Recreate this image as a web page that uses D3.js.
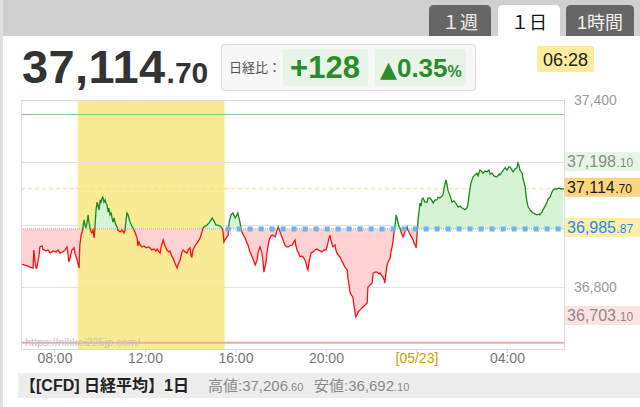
<!DOCTYPE html>
<html><head><meta charset="utf-8">
<script src="https://cdn.jsdelivr.net/npm/d3@7"></script>
<style>
body{margin:0;background:#fff;}
svg{display:block;font-family:"Liberation Sans","Noto Sans CJK JP",sans-serif;}
</style>
</head><body>
<svg id="c" width="640" height="407"></svg>
<script>
// ---- data (minutes elapsed since 05/22 06:30, CFD Nikkei price) ----
const elapsedMin = [0,8,16,24,32,34,37,40,42,48,50,56,58,66,72,77,85,93,98,103,111,117,122,125,127,130,135,141,143,149,154,156,159,162,164,167,170,172,175,178,180,183,186,188,191,194,196,199,202,204,207,210,212,215,217,220,223,225,228,231,233,236,239,241,244,247,249,252,255,257,263,268,273,276,278,281,284,289,294,297,302,308,310,313,316,321,326,332,337,342,347,353,358,361,366,369,371,377,382,387,392,395,400,403,408,414,416,422,427,430,435,440,443,448,451,453,456,461,467,472,475,480,483,488,493,499,504,507,512,517,522,528,533,536,538,544,549,552,557,562,568,573,575,581,583,586,591,594,599,602,607,613,618,621,626,629,634,639,642,644,650,652,658,663,666,671,674,679,682,687,692,697,700,705,708,713,719,724,727,729,732,737,740,745,748,753,756,758,761,764,769,774,780,785,788,793,798,804,809,812,814,817,819,822,827,833,835,838,843,846,851,854,859,865,867,870,873,878,880,883,886,888,891,894,899,904,907,912,918,920,926,931,934,939,944,949,952,957,960,963,965,968,971,976,979,981,984,987,989,992,995,997,1000,1002,1005,1008,1013,1018,1024,1026,1029,1034,1037,1040,1042,1045,1048,1050,1053,1056,1058,1061,1063,1066,1071,1077,1079,1085,1090,1093,1098,1103,1106,1111,1117,1119,1122,1127,1130,1132,1138,1143,1148,1151,1156,1159,1164,1170,1175,1177,1183,1185,1188,1191,1193,1199,1204,1209,1212,1217,1223,1225,1231,1236,1241,1244,1249,1254,1260,1262,1268,1270,1276,1281,1284,1289,1294,1297,1302,1305,1310,1315,1318,1321,1323,1329,1331,1337,1339,1342,1345,1347,1350,1355,1358,1363,1368,1374,1376,1382,1384,1390,1395,1398,1403,1408,1411,1416,1421,1427,1432,1438];
const prices = [36873,36870,36867,36863,36860,36918,36880,36860,36860,36902,36928,36931,36921,36915,36918,36908,36915,36912,36918,36908,36912,36918,36928,36902,36880,36892,36918,36925,36908,36886,36860,36934,36963,36976,36986,37015,36998,36989,37005,37031,37008,36989,36976,36973,36982,36957,36989,37047,37072,37063,37047,37079,37069,37085,37088,37072,37079,37069,37063,37040,37053,37031,37037,37024,37008,37021,37008,36998,36992,36982,36976,36982,36973,36982,37008,37037,37031,37008,36995,36989,36976,36957,36931,36944,36934,36928,36931,36925,36928,36925,36918,36921,36915,36921,36912,36908,36925,36950,36931,36918,36912,36915,36899,36892,36876,36860,36870,36886,36912,36918,36912,36908,36918,36925,36899,36896,36918,36931,36941,36950,36957,36976,36989,36995,36998,37005,37015,37021,37011,36998,36998,36995,36989,36976,36944,36957,36963,37008,37031,37037,37021,37031,37037,37005,36989,36976,36963,36957,36941,36934,36912,36896,36880,36870,36886,36912,36928,36908,36880,36847,36880,36908,36950,36963,36966,36963,36960,36982,36992,36976,36960,36944,36934,36928,36928,36931,36934,36944,36950,36931,36918,36905,36896,36899,36896,36886,36876,36863,36854,36880,36908,36912,36918,36921,36918,36915,36912,36918,36918,36931,36941,36957,36966,36950,36928,36934,36918,36908,36899,36896,36883,36876,36863,36854,36828,36806,36780,36770,36767,36741,36716,36703.1,36709,36719,36725,36732,36735,36741,36748,36799,36806,36812,36844,36847,36847,36841,36844,36835,36831,36822,36812,36847,36870,36886,36892,36912,36928,36950,36973,36998,37031,37021,37005,36995,36989,36976,36960,36976,36992,36982,36976,36963,36957,36950,36941,36934,36925,36966,37015,37047,37069,37059,37079,37085,37072,37072,37085,37085,37076,37069,37079,37079,37088,37085,37092,37095,37117,37143,37127,37111,37092,37072,37076,37072,37063,37056,37059,37053,37050,37047,37053,37063,37092,37117,37133,37153,37159,37165,37156,37175,37169,37165,37172,37169,37175,37162,37165,37156,37153,37153,37162,37159,37169,37178,37182,37175,37185,37185,37175,37169,37178,37182,37198.1,37188,37175,37165,37149,37121,37095,37072,37056,37053,37047,37040,37037,37034,37031,37034,37031,37040,37047,37059,37072,37082,37088,37104,37111,37114,37114,37117,37114,37114.7];

const prevClose = 36985.87;
const lastPrice = 37114.70;
const markerValues = [37198.10, 37114.70, 36985.87, 36703.10];
const yTickValues = [37400, 37200, 37000, 36800];
const xTickMinutes = [90, 330, 570, 810, 1050, 1290];
const xTickLabels = ["08:00", "12:00", "16:00", "20:00", "[05/23]", "04:00"];
const sessionBand = [150, 540];          // 09:00 - 15:30
const refLevels = [37355, 36620];         // upper / lower reference lines
const tabLabels = ["１週", "１日", "1時間"];
const header = {price: "37,114", priceDec: ".70", change: "+128", pct: "0.35", time: "06:28"};
const footer = {title: "【[CFD] 日経平均】1日", high: "37,206", highDec: ".60", low: "36,692", lowDec: ".10"};

// ---- drawing ----
const svg = d3.select("#c");
const L = 21, R = 564, T = 100, B = 349;
const x = d3.scaleLinear().domain([0, 1440]).range([L, R]);
const y = d3.scaleLinear().domain([36600, 37400]).range([B, T]);
const data = elapsedMin.map((m, i) => ({m, v: prices[i]}));

// top band + left strip
svg.append("rect").attr("x", 0).attr("y", 0).attr("width", 640).attr("height", 36).attr("fill", "#d0d0d0");
svg.append("rect").attr("x", 0).attr("y", 0).attr("width", 3).attr("height", 407).attr("fill", "#e0e0e0");

// tabs
const tabs = [{x: 429, w: 62, active: false}, {x: 498, w: 62, active: true}, {x: 566, w: 68, active: false}];
tabs.forEach((t, i) => {
  svg.append("path")
    .attr("d", `M${t.x},36 V10 Q${t.x},5 ${t.x+5},5 H${t.x+t.w-5} Q${t.x+t.w},5 ${t.x+t.w},10 V36 Z`)
    .attr("fill", t.active ? "#fff" : "#666");
  svg.append("text").attr("x", t.x + t.w / 2).attr("y", 29).attr("text-anchor", "middle")
    .attr("font-size", 18).attr("fill", t.active ? "#111" : "#f0f0f0")
    .text(tabLabels[i]);
});

// big price
const bp = svg.append("text").attr("x", 22).attr("y", 83).attr("fill", "#333").attr("font-weight", "bold");
bp.append("tspan").attr("font-size", 47).attr("letter-spacing", 0.4).text(header.price);
bp.append("tspan").attr("font-size", 30).attr("dx", 1).text(header.priceDec);

// change box
svg.append("rect").attr("x", 221.5).attr("y", 44.5).attr("width", 254).attr("height", 46).attr("rx", 3)
  .attr("fill", "#f7f7f7").attr("stroke", "#dadada");
svg.append("text").attr("x", 229).attr("y", 72).attr("font-size", 13).attr("fill", "#555").text("日経比：");
svg.append("rect").attr("x", 283).attr("y", 49).attr("width", 85).attr("height", 37).attr("rx", 3).attr("fill", "#e8f4e8");
svg.append("rect").attr("x", 375).attr("y", 49).attr("width", 91).attr("height", 37).attr("rx", 3).attr("fill", "#e8f4e8");
svg.append("text").attr("x", 325).attr("y", 78).attr("text-anchor", "middle").attr("font-size", 31)
  .attr("font-weight", "bold").attr("fill", "#2b8c2b").text(header.change);
const pt = svg.append("text").attr("x", 380).attr("y", 77).attr("font-weight", "bold").attr("fill", "#2b8c2b");
pt.append("tspan").attr("font-size", 22).attr("font-family", "DejaVu Sans").text("▲");
pt.append("tspan").attr("font-size", 26).text(header.pct);
pt.append("tspan").attr("font-size", 16).text("%");

// time box
svg.append("rect").attr("x", 537).attr("y", 46).attr("width", 57).attr("height", 26).attr("rx", 2).attr("fill", "#fcec9c");
svg.append("text").attr("x", 565.5).attr("y", 66).attr("text-anchor", "middle").attr("font-size", 18).attr("fill", "#222").text(header.time);

// session band
svg.append("rect").attr("x", x(sessionBand[0])).attr("y", T).attr("width", x(sessionBand[1]) - x(sessionBand[0]))
  .attr("height", B - T).attr("fill", "#f9ea96");

// gridlines
svg.selectAll(".grid").data(yTickValues.slice(1)).join("line")
  .attr("x1", L).attr("x2", R).attr("y1", d => Math.round(y(d)) + 0.5).attr("y2", d => Math.round(y(d)) + 0.5)
  .attr("stroke", "#e2e2e2");

// reference lines
svg.append("line").attr("x1", L).attr("x2", R).attr("y1", Math.round(y(refLevels[0])) + 0.5).attr("y2", Math.round(y(refLevels[0])) + 0.5)
  .attr("stroke", "#86c886").attr("stroke-width", 1);
svg.append("line").attr("x1", L).attr("x2", R).attr("y1", y(refLevels[1])).attr("y2", y(refLevels[1]))
  .attr("stroke", "#f6a6a6").attr("stroke-width", 2);

// watermark
svg.append("text").attr("x", 25).attr("y", 346).attr("font-size", 11).attr("fill", "#c4c4c4").text("https://nikkei225jp.com/");

// last price dashed line
svg.append("line").attr("x1", L).attr("x2", R).attr("y1", y(lastPrice)).attr("y2", y(lastPrice))
  .attr("stroke", "#fbd49a").attr("stroke-dasharray", "4,3");

// clips
const yb = y(prevClose);
const defs = svg.append("defs");
defs.append("clipPath").attr("id", "above").append("rect").attr("x", L).attr("y", T).attr("width", R - L).attr("height", yb - T);
defs.append("clipPath").attr("id", "below").append("rect").attr("x", L).attr("y", yb).attr("width", R - L).attr("height", B - yb);

const area = d3.area().x(d => x(d.m)).y0(yb).y1(d => y(d.v));
const line = d3.line().x(d => x(d.m)).y(d => y(d.v));

svg.append("path").datum(data).attr("d", area).attr("fill", "#d6f3d6").attr("clip-path", "url(#above)");
svg.append("path").datum(data).attr("d", area).attr("fill", "#ffd3d3").attr("clip-path", "url(#below)");

// baseline: thin grey dotted across + blue squares after session
svg.append("line").attr("x1", L).attr("x2", R).attr("y1", yb).attr("y2", yb)
  .attr("stroke", "#aaa").attr("stroke-width", 1).attr("stroke-dasharray", "1,1");

svg.append("path").datum(data).attr("d", line).attr("fill", "none").attr("stroke", "#1a8a1a").attr("stroke-width", 1.3)
  .attr("clip-path", "url(#above)");
svg.append("path").datum(data).attr("d", line).attr("fill", "none").attr("stroke", "#ff1010").attr("stroke-width", 1.3)
  .attr("clip-path", "url(#below)");

svg.append("line").attr("x1", x(sessionBand[1]) + 1).attr("x2", R).attr("y1", yb).attr("y2", yb)
  .attr("stroke", "#6db2f2").attr("stroke-width", 5).attr("stroke-dasharray", "5,6");

// end connector
const last = data[data.length - 1];
svg.append("line").attr("x1", x(last.m)).attr("x2", R + 2).attr("y1", y(last.v)).attr("y2", y(last.v))
  .attr("stroke", "#333").attr("stroke-width", 1.3);

// frame
svg.append("rect").attr("x", L + 0.5).attr("y", T + 0.5).attr("width", R - L).attr("height", B - T)
  .attr("fill", "none").attr("stroke", "#dcdcdc");
svg.append("line").attr("x1", L).attr("x2", R + 1).attr("y1", B + 0.5).attr("y2", B + 0.5).attr("stroke", "#d3dbe6");

// y tick labels (those hidden under a marker label are not drawn)
const visibleTicks = yTickValues.filter(t => markerValues.every(m => Math.abs(y(m) - y(t)) > 16));
svg.selectAll(".yl").data(visibleTicks).join("text")
  .attr("x", 574).attr("y", d => y(d) + 5).attr("font-size", 14).attr("fill", "#9a9a9a")
  .text(d => d3.format(",")(d));

// marker labels
const mStyle = [
  {bg: "#e5f6e5", fg: "#8a8a8a"},
  {bg: "#fcd580", fg: "#1a1a1a"},
  {bg: "#fdf0a6", fg: "#1a8cff"},
  {bg: "#fde2e2", fg: "#8a8a8a"}
];
markerValues.forEach((v, i) => {
  const cy = y(v) - 1.5;
  svg.append("rect").attr("x", 565).attr("y", cy - 9.5).attr("width", 75).attr("height", 19).attr("fill", mStyle[i].bg);
  const s = d3.format(",.2f")(v);
  const dot = s.indexOf(".");
  const t = svg.append("text").attr("x", 567).attr("y", cy + 6).attr("fill", mStyle[i].fg);
  t.append("tspan").attr("font-size", 16).text(s.slice(0, dot));
  t.append("tspan").attr("font-size", 12).attr("dx", 0.5).text(s.slice(dot));
});

// x axis
xTickMinutes.forEach((m, i) => {
  svg.append("line").attr("x1", x(m)).attr("x2", x(m)).attr("y1", B).attr("y2", B + 4).attr("stroke", "#ccd4de");
  svg.append("text").attr("x", x(m)).attr("y", 363).attr("text-anchor", "middle").attr("font-size", 14)
    .attr("fill", xTickLabels[i].startsWith("[") ? "#c6a300" : "#777").text(xTickLabels[i]);
});

// footer
svg.append("rect").attr("x", 18).attr("y", 373).attr("width", 622).attr("height", 25).attr("fill", "#ededed");
svg.append("text").attr("x", 20).attr("y", 391).attr("font-size", 16).attr("font-weight", "bold").attr("fill", "#222").text(footer.title);
const fh = svg.append("text").attr("x", 208).attr("y", 391).attr("fill", "#888");
fh.append("tspan").attr("font-size", 15).text("高値:" + footer.high);
fh.append("tspan").attr("font-size", 11).text(footer.highDec);
const fl = svg.append("text").attr("x", 314).attr("y", 391).attr("fill", "#888");
fl.append("tspan").attr("font-size", 15).text("安値:" + footer.low);
fl.append("tspan").attr("font-size", 11).text(footer.lowDec);
</script>
</body></html>
